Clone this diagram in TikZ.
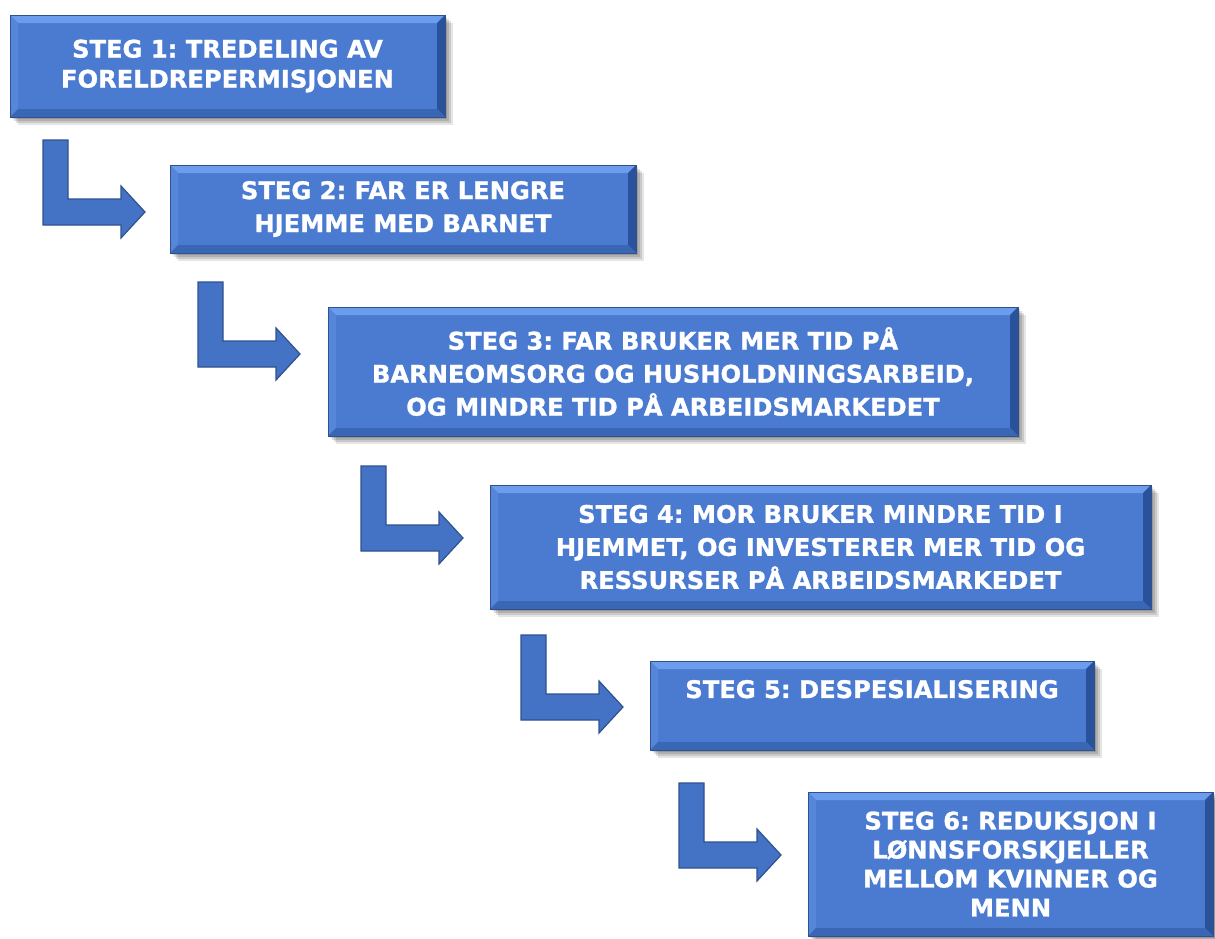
\documentclass[tikz,border=0pt]{standalone}
\usepackage{fontspec}
\setmainfont{DejaVu Sans}[BoldFeatures={FakeBold=1.2}]
\usepackage{tikz}
\usetikzlibrary{shadows}
\definecolor{stegblue}{HTML}{4A7BD0}
\definecolor{steglight}{HTML}{6C9CEC}
\definecolor{stegleft}{HTML}{5686DA}
\definecolor{stegright}{HTML}{2A529A}
\definecolor{stegbottom}{HTML}{3A66B6}
\definecolor{stegedge}{HTML}{2F528F}
\definecolor{arrowblue}{HTML}{4472C4}
\frenchspacing

\begin{document}
\begin{tikzpicture}[x=1pt, y=-1pt,
    stegbox/.style={fill=stegblue, draw=stegedge, line width=0.8pt, text=white,
        align=center, inner sep=0pt, font=\bfseries\fontsize{24.2}{33}\selectfont,
        general shadow={fill=black, opacity=0.13, shadow xshift=2pt, shadow yshift=-2pt},
        general shadow={fill=black, opacity=0.13, shadow xshift=4pt, shadow yshift=-4pt},
        general shadow={fill=black, opacity=0.12, shadow xshift=6pt, shadow yshift=-6pt},
        general shadow={fill=black, opacity=0.10, shadow xshift=8pt, shadow yshift=-8pt},
        path picture={
            \fill[steglight] (path picture bounding box.north west) -- (path picture bounding box.north east)
                -- ([shift={(-8pt,-8pt)}]path picture bounding box.north east)
                -- ([shift={(8pt,-8pt)}]path picture bounding box.north west) -- cycle;
            \fill[stegleft] (path picture bounding box.north west) -- ([shift={(8pt,-8pt)}]path picture bounding box.north west)
                -- ([shift={(8pt,8pt)}]path picture bounding box.south west)
                -- (path picture bounding box.south west) -- cycle;
            \fill[stegright] (path picture bounding box.north east) -- ([shift={(-8pt,-8pt)}]path picture bounding box.north east)
                -- ([shift={(-8pt,8pt)}]path picture bounding box.south east)
                -- (path picture bounding box.south east) -- cycle;
            \fill[stegbottom] (path picture bounding box.south west) -- ([shift={(8pt,8pt)}]path picture bounding box.south west)
                -- ([shift={(-8pt,8pt)}]path picture bounding box.south east)
                -- (path picture bounding box.south east) -- cycle;
        }},
    bentarrow/.pic={
        \draw[fill=arrowblue, draw=stegedge, line width=1.2pt, line join=miter]
            (0,0) -- (25,0) -- (25,59) -- (78,59) -- (78,46) -- (102,72)
            -- (78,98) -- (78,85) -- (0,85) -- cycle;
    }]
    \useasboundingbox (0,0) rectangle (1215,938);
    \fill[white] (0,0) rectangle (1215,938);

    % steps
    \node[stegbox, minimum width=435pt, minimum height=102pt, font=\bfseries\fontsize{24.2}{30}\selectfont]
        (steg1) at (227.5,66) {STEG 1: TREDELING AV\\FORELDREPERMISJONEN};
    \node[stegbox, minimum width=466pt, minimum height=88pt]
        (steg2) at (403,209) {STEG 2: FAR ER LENGRE\\HJEMME MED BARNET};
    \node[stegbox, minimum width=690pt, minimum height=129pt]
        (steg3) at (673,371.5) {STEG 3: FAR BRUKER MER TID PÅ\\BARNEOMSORG OG HUSHOLDNINGSARBEID,\\OG MINDRE TID PÅ ARBEIDSMARKEDET};
    \node[stegbox, minimum width=661pt, minimum height=124pt]
        (steg4) at (820.5,547) {STEG 4: MOR BRUKER MINDRE TID I\\HJEMMET, OG INVESTERER MER TID OG\\RESSURSER PÅ ARBEIDSMARKEDET};
    \node[stegbox, minimum width=444pt, minimum height=89pt]
        (steg5) at (872,705.5) {STEG 5: DESPESIALISERING\\\mbox{}};
    \node[stegbox, minimum width=405pt, minimum height=144pt, font=\bfseries\fontsize{24.2}{29}\selectfont]
        (steg6) at (1010.5,864) {STEG 6: REDUKSJON I\\LØNNSFORSKJELLER\\MELLOM KVINNER OG\\MENN};

    % bent arrows between the steps
    \path (43,140) pic {bentarrow};
    \path (198,282) pic {bentarrow};
    \path (361,466) pic {bentarrow};
    \path (521,635) pic {bentarrow};
    \path (679,783) pic {bentarrow};
\end{tikzpicture}
\end{document}
